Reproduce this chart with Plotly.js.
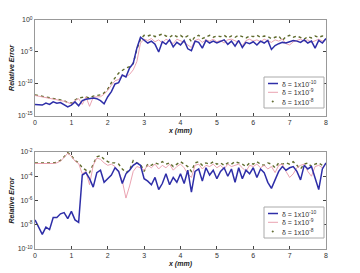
<!DOCTYPE html>
<html><head><meta charset="utf-8">
<script src="https://cdn.plot.ly/plotly-3.0.1.min.js"></script>
<style>html,body{margin:0;padding:0;background:#fff}#c{width:360px;height:273px}</style>
</head><body><div id="c"></div>
<script>
// x positions (mm)
const xPos = [0,0.1,0.2,0.3,0.4,0.5,0.6,0.7,0.8,0.9,1,1.1,1.2,1.3,1.4,1.5,1.6,1.7,1.8,1.9,2,2.1,2.2,2.3,2.4,2.5,2.6,2.7,2.8,2.9,3,3.1,3.2,3.3,3.4,3.5,3.6,3.7,3.8,3.9,4,4.1,4.2,4.3,4.4,4.5,4.6,4.7,4.8,4.9,5,5.1,5.2,5.3,5.4,5.5,5.6,5.7,5.8,5.9,6,6.1,6.2,6.3,6.4,6.5,6.6,6.7,6.8,6.9,7,7.1,7.2,7.3,7.4,7.5,7.6,7.7,7.8,7.9,8];
// Values, as log10 exponents of relative error
const topBlueExp = [-13.2,-13.2,-13.3,-13.0,-13.2,-12.8,-13.0,-12.9,-13.3,-13.6,-13.3,-12.8,-13.4,-12.6,-12.4,-12.3,-12.2,-12.3,-12.6,-13.1,-12.0,-11.2,-10.0,-9.8,-8.6,-8.9,-7.5,-6.8,-4.4,-2.7,-3.2,-3.6,-3.3,-3.8,-5.0,-3.4,-3.8,-3.1,-4.2,-3.5,-3.9,-3.2,-4.5,-4.8,-3.3,-3.5,-4.4,-3.2,-3.6,-3.3,-3.6,-3.4,-3.1,-3.8,-3.3,-4.1,-3.2,-4.3,-3.5,-3.7,-3.4,-3.9,-3.3,-3.6,-3.2,-4.6,-4.0,-3.7,-3.5,-3.6,-3.4,-3.2,-3.3,-3.5,-3.1,-3.6,-3.3,-4.4,-3.2,-3.6,-2.9];
const topPinkExp = [-11.8,-11.9,-12.0,-12.1,-12.2,-12.3,-12.4,-12.5,-12.7,-12.9,-13.1,-12.6,-12.3,-13.2,-12.0,-13.5,-12.1,-12.0,-12.0,-11.6,-11.0,-10.2,-9.5,-9.3,-8.6,-8.9,-8.5,-7.8,-6.5,-3.6,-3.0,-3.2,-2.9,-3.4,-3.1,-3.6,-3.0,-3.3,-3.7,-3.0,-3.2,-3.5,-3.9,-4.3,-3.2,-3.0,-3.5,-3.1,-3.3,-3.0,-3.4,-3.2,-3.6,-3.1,-3.0,-3.3,-3.5,-4.0,-3.2,-3.0,-3.3,-3.1,-3.4,-3.0,-3.2,-3.5,-3.1,-3.3,-3.0,-3.7,-3.9,-3.4,-3.2,-3.0,-3.3,-3.1,-3.5,-3.2,-3.0,-3.3,-3.0];
const topGreenExp = [-11.7,-11.8,-11.9,-12.0,-12.1,-12.2,-12.3,-12.4,-12.6,-12.9,-13.0,-12.5,-12.2,-12.1,-12.0,-12.2,-11.9,-11.8,-11.7,-11.4,-10.8,-9.8,-9.0,-8.3,-7.9,-7.5,-7.3,-6.8,-4.6,-3.0,-2.4,-2.5,-2.3,-2.6,-2.4,-2.2,-2.5,-2.7,-2.3,-2.6,-2.4,-2.8,-2.5,-3.4,-2.6,-2.4,-2.9,-2.6,-2.4,-2.7,-2.5,-2.6,-2.4,-2.8,-2.5,-2.7,-2.4,-2.6,-2.8,-2.5,-2.6,-2.4,-2.7,-2.5,-2.6,-2.9,-2.7,-2.5,-3.2,-2.6,-2.4,-2.7,-2.5,-2.8,-3.0,-2.6,-2.8,-2.5,-2.7,-2.5,-2.6];
const botBlueExp = [-7.6,-8.2,-8.8,-8.2,-8.4,-7.4,-7.4,-7.1,-7.0,-7.5,-6.9,-7.6,-7.8,-3.9,-3.7,-4.2,-4.9,-3.7,-3.5,-4.5,-4.2,-3.9,-3.3,-3.6,-4.6,-3.8,-3.5,-3.1,-2.9,-3.1,-4.2,-4.4,-4.7,-4.1,-5.1,-4.6,-3.8,-4.7,-4.1,-4.5,-3.8,-4.6,-3.5,-5.3,-3.6,-3.4,-4.4,-3.3,-3.9,-3.5,-4.2,-3.6,-3.3,-4.0,-3.4,-4.5,-3.3,-4.2,-3.5,-3.8,-3.3,-4.1,-3.4,-3.7,-4.5,-5.0,-4.3,-3.6,-3.2,-3.5,-3.3,-3.2,-3.6,-4.3,-3.1,-3.4,-3.2,-4.2,-5.1,-3.4,-2.9];
const botPinkExp = [-2.95,-2.95,-3.0,-3.0,-2.95,-2.95,-2.9,-2.75,-2.45,-2.1,-2.35,-2.75,-2.95,-3.8,-3.6,-4.7,-3.1,-2.5,-2.6,-2.9,-3.1,-3.0,-3.2,-3.6,-4.4,-5.8,-4.8,-3.6,-3.2,-3.3,-3.5,-3.1,-3.3,-3.0,-3.4,-3.1,-3.3,-3.0,-3.5,-3.2,-3.0,-3.3,-3.8,-4.1,-3.1,-3.0,-3.4,-3.1,-3.2,-3.0,-3.3,-3.1,-3.4,-3.0,-3.2,-3.1,-3.0,-3.3,-3.6,-3.1,-3.2,-3.0,-3.3,-3.1,-3.4,-3.2,-3.7,-3.1,-3.0,-3.6,-4.1,-3.8,-3.3,-3.1,-3.0,-3.6,-4.0,-3.2,-3.1,-3.3,-3.0];
const botGreenExp = [-2.9,-2.9,-2.95,-2.95,-2.9,-2.9,-2.85,-2.7,-2.4,-2.05,-2.3,-2.7,-2.9,-3.3,-3.5,-3.7,-3.0,-2.4,-2.3,-2.6,-2.8,-2.9,-2.9,-3.0,-3.4,-3.7,-3.5,-2.7,-2.9,-3.0,-3.6,-3.0,-3.1,-2.9,-3.0,-2.8,-3.0,-2.9,-3.2,-3.0,-2.8,-3.0,-3.2,-3.6,-2.9,-2.8,-3.1,-2.9,-3.0,-2.8,-3.0,-2.9,-3.1,-2.9,-3.0,-2.8,-2.9,-3.0,-3.2,-2.9,-3.0,-2.8,-3.0,-3.1,-2.9,-3.0,-3.3,-2.9,-3.0,-2.9,-3.0,-2.8,-3.1,-3.4,-3.0,-2.9,-3.2,-3.0,-2.9,-3.1,-3.0];
const seriesNames = ['δ = 1x10<sup>-10</sup>','δ = 1x10<sup>-9</sup>','δ = 1x10<sup>-8</sup>'];
const topTickVals = [1, 1e-5, 1e-10, 1e-15];
const topTickText = ['10<sup>0</sup>','10<sup>-5</sup>','10<sup>-10</sup>','10<sup>-15</sup>'];
const botTickVals = [1e-2, 1e-4, 1e-6, 1e-8, 1e-10];
const botTickText = ['10<sup>-2</sup>','10<sup>-4</sup>','10<sup>-6</sup>','10<sup>-8</sup>','10<sup>-10</sup>'];
const xTicks = [0,1,2,3,4,5,6,7,8];

const toVal = a => a.map(e => Math.pow(10, e));
const blue = '#2e2ea8', pink = '#e898a8', green = '#5f6b2c';
const styles = [{color: blue, width: 1.5}, {color: pink, width: 0.9}, {color: green, width: 1.4, dash: 'dot'}];
function mk(exps, i, ax) {
  return {x: xPos, y: toVal(exps), type: 'scatter', mode: 'lines', name: seriesNames[i],
    line: styles[i], xaxis: ax[0], yaxis: ax[1], showlegend: false};
}
const data = [
  mk(topGreenExp, 2, ['x','y']),
  mk(topPinkExp, 1, ['x','y']),
  mk(topBlueExp, 0, ['x','y']),
  mk(botGreenExp, 2, ['x2','y2']),
  mk(botPinkExp, 1, ['x2','y2']),
  mk(botBlueExp, 0, ['x2','y2'])
];
const tf = {family: 'Liberation Sans, Arial, sans-serif', size: 7, color: '#333'};
const xa = (anchor) => ({anchor: anchor, domain: [0,1], range: [0,8], tickvals: xTicks, ticks: 'inside', ticklen: 3,
  showline: true, mirror: 'ticks', linecolor: '#999', linewidth: 1, showgrid: false, zeroline: false,
  tickfont: tf, title: {text: '<b><i>x (mm)</i></b>', font: {family: 'Liberation Sans, Arial', size: 7, color: '#222'}, standoff: 2}});
const ya = (anchor, dom, rng, tv, tt) => ({anchor: anchor, domain: dom, type: 'log', range: rng, tickvals: tv, ticktext: tt,
  ticks: 'inside', ticklen: 3, showline: true, mirror: 'ticks', linecolor: '#999', linewidth: 1, showgrid: false, zeroline: false,
  tickfont: tf, title: {text: '<b><i>Relative Error</i></b>', font: {family: 'Liberation Sans, Arial', size: 7, color: '#222'}, standoff: 2}});

// legend boxes drawn in paper coordinates (one per panel)
const W = 291, H = 229, L = 35, B = 249;
const px = v => (v - L) / W, py = v => (B - v) / H;
const shapes = [], annotations = [];
[[77, 108], [207, 238]].forEach(([t, b]) => {
  shapes.push({type: 'rect', xref: 'paper', yref: 'paper', x0: px(264), x1: px(324), y0: py(b), y1: py(t),
    line: {color: '#aaa', width: 1}, fillcolor: '#fff', layer: 'above'});
  const rows = [t + 6.5, t + 15.3, t + 24.5];
  rows.forEach((ry, i) => {
    if (i < 2) {
      shapes.push({type: 'line', xref: 'paper', yref: 'paper', x0: px(268), x1: px(278), y0: py(ry), y1: py(ry),
        line: {color: styles[i].color, width: styles[i].width}, layer: 'above'});
    } else {
      shapes.push({type: 'circle', xref: 'paper', yref: 'paper', x0: px(272), x1: px(273.5), y0: py(ry + 0.75), y1: py(ry - 0.75),
        line: {color: green, width: 0.5}, fillcolor: green, layer: 'above'});
    }
    annotations.push({xref: 'paper', yref: 'paper', x: px(280), y: py(ry), xanchor: 'left', yanchor: 'middle',
      text: seriesNames[i], showarrow: false, font: {family: 'Liberation Sans, Arial', size: 7, color: '#333'}});
  });
});

const layout = {
  width: 360, height: 273, margin: {l: 35, r: 34, t: 20, b: 24, autoexpand: false}, paper_bgcolor: '#fff', plot_bgcolor: '#fff',
  showlegend: false,
  xaxis: xa('y'), yaxis: ya('x', [0.581, 1], [-15, 0], topTickVals, topTickText),
  xaxis2: xa('y2'), yaxis2: ya('x2', [0, 0.4236], [-10, -2], botTickVals, botTickText),
  shapes: shapes, annotations: annotations
};
Plotly.newPlot('c', data, layout, {staticPlot: true, displayModeBar: false});
</script></body></html>
